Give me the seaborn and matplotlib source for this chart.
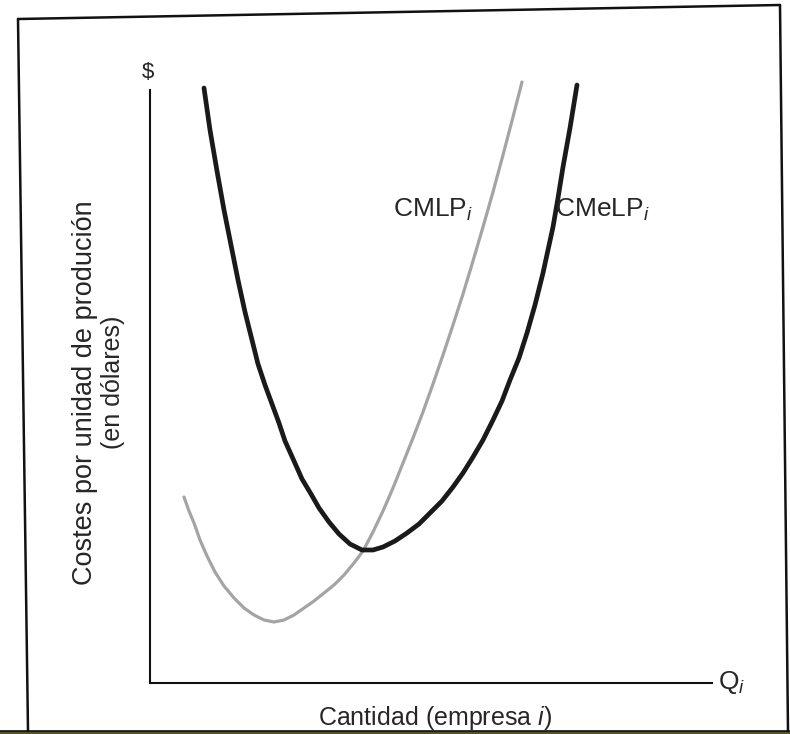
import pandas as pd
import matplotlib
matplotlib.use("Agg")
import matplotlib.pyplot as plt
from matplotlib.lines import Line2D
from matplotlib.patches import Rectangle
import seaborn as sns

# Curves
# (arbitrary units: quantity 0-562, cost 0-593)
q_cmelp = [54, 60, 67, 74, 81, 88, 95, 102, 108, 115,
           122, 129, 135, 144, 152, 161, 169, 179, 189, 200,
           212, 223, 233, 245, 257, 269, 280, 292, 303, 313,
           323, 333, 343, 352, 360, 369, 377, 385, 393, 398,
           403, 408, 413, 420, 427]
c_cmelp = [595, 553, 512, 473, 438, 403, 371, 343, 319, 298,
           279, 260, 242, 222, 204, 189, 175, 161, 149, 139,
           133, 133, 136, 142, 150, 159, 170, 182, 196, 210,
           226, 243, 263, 282, 303, 325, 350, 378, 410, 433,
           456, 485, 516, 555, 598]

q_cmlp = [34, 39, 44, 50, 57, 65, 74, 84, 94, 104,
          114, 124, 134, 144, 154, 164, 174, 184, 194, 204,
          213, 223, 233, 243, 253, 263, 273, 283, 293, 303,
          313, 323, 333, 343, 353, 363, 372]
c_cmlp = [186, 172, 160, 143, 127, 111, 97, 85, 75, 68,
          63, 61, 63, 68, 75, 82, 90, 98, 108, 120,
          132, 151, 172, 195, 220, 245, 271, 299, 328, 358,
          389, 422, 456, 491, 528, 566, 601]

df_cmelp = pd.DataFrame({"Q": q_cmelp, "C": c_cmelp})
df_cmlp = pd.DataFrame({"Q": q_cmlp, "C": c_cmlp})

sns.set_style("white")
plt.rcParams['font.family'] = ['Liberation Sans', 'DejaVu Sans']
plt.rcParams['mathtext.fontset'] = 'custom'
plt.rcParams['mathtext.rm'] = 'Liberation Sans'
plt.rcParams['mathtext.it'] = 'Liberation Sans:italic'

W, H = 790, 734
fig = plt.figure(figsize=(W / 100, H / 100), dpi=100)
fig.patch.set_facecolor("white")


def fx(px):
    return px / W


def fy(py):
    return 1 - py / H


# axes box: x from 150 to 712 px, y from 683 (bottom) to 90 (top)
ax = fig.add_axes([fx(150), fy(683), fx(712) - fx(150), fy(90) - fy(683)])
ax.set_xlim(0, 562)
ax.set_ylim(0, 593)
ax.patch.set_alpha(0)

sns.lineplot(data=df_cmlp, x="Q", y="C", ax=ax, sort=False,
             color="#a4a4a4", linewidth=2.3, clip_on=False,
             solid_joinstyle="round")
sns.lineplot(data=df_cmelp, x="Q", y="C", ax=ax, sort=False,
             color="#1a1a1a", linewidth=3.4, clip_on=False,
             solid_joinstyle="round")

ax.set_xticks([])
ax.set_yticks([])
ax.set_xlabel("")
ax.set_ylabel("")
for s in ["top", "right"]:
    ax.spines[s].set_visible(False)
for s in ["left", "bottom"]:
    ax.spines[s].set_linewidth(1.5)
    ax.spines[s].set_color("#111111")

# curve labels
fig.text(fx(433), fy(210), "CMLP$_i$", fontsize=19, ha="center", va="center")
fig.text(fx(602), fy(210), "CMeLP$_i$", fontsize=19, ha="center", va="center")

# axis texts
fig.text(fx(148), fy(72), "\\$", fontsize=16, ha="center", va="center")
fig.text(fx(732), fy(683), "Q$_i$", fontsize=19, ha="center", va="center")
fig.text(fx(435), fy(718), "Cantidad (empresa $i$)", fontsize=18,
         ha="center", va="center")
fig.text(fx(85), fy(393), "Costes por unidad de produción", fontsize=19.5,
         rotation=90, ha="center", va="center")
fig.text(fx(113), fy(382), "(en dólares)", fontsize=18,
         rotation=90, ha="center", va="center")

# scanned frame around the figure (slightly tilted)
frame = [((28, 731), (18, 19)), ((18, 19), (780, 5)), ((780, 5), (788, 731))]
for (x0, y0), (x1, y1) in frame:
    fig.add_artist(Line2D([fx(x0), fx(x1)], [fy(y0), fy(y1)],
                          transform=fig.transFigure, color="#111111", lw=1.8))

# dark strip at the very bottom of the scan
fig.add_artist(Rectangle((0, 0), 1, 3 / H, transform=fig.transFigure,
                         facecolor="#55541f", edgecolor="none"))
fig.add_artist(Line2D([0, 1], [3.5 / H, 3.5 / H], transform=fig.transFigure,
                      color="#111111", lw=1.2))

fig.savefig("out.png", dpi=100)
